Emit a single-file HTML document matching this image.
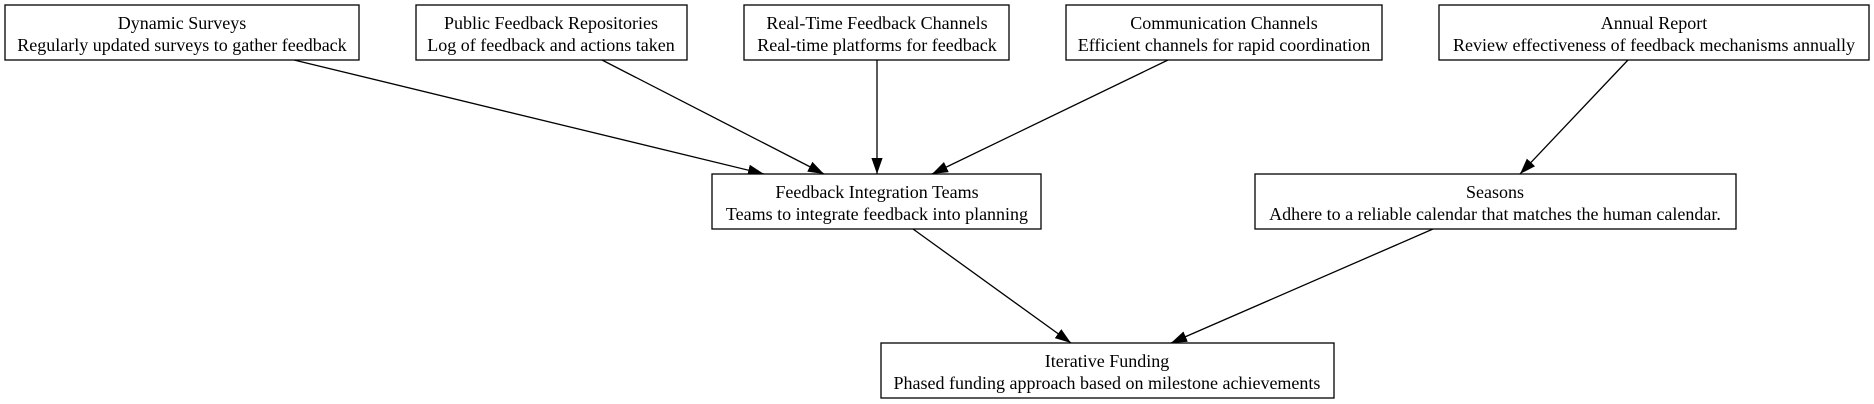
<!DOCTYPE html>
<html><head><meta charset="utf-8"><style>
html,body{margin:0;padding:0;background:#fff;width:1874px;height:404px;overflow:hidden}
text{font-family:"Liberation Serif","Times New Roman",serif;font-size:18px;fill:#000;text-anchor:middle}
rect{fill:#fff;stroke:#000;stroke-width:1.3}
line{stroke:#000;stroke-width:1.3}
</style></head><body>
<svg width="1874" height="404" viewBox="0 0 1874 404" xmlns="http://www.w3.org/2000/svg">
<defs><marker id="a" viewBox="0 0 10 10" refX="10" refY="5" markerWidth="16" markerHeight="16" markerUnits="userSpaceOnUse" orient="auto"><path d="M0,1.5 L10,5 L0,8.5 z" fill="#000"/></marker></defs>
<line x1="294" y1="60" x2="764" y2="174" marker-end="url(#a)"/>
<line x1="602" y1="60" x2="824" y2="174" marker-end="url(#a)"/>
<line x1="877" y1="60" x2="877" y2="174" marker-end="url(#a)"/>
<line x1="1168" y1="60" x2="932" y2="174" marker-end="url(#a)"/>
<line x1="1628" y1="60" x2="1520" y2="174" marker-end="url(#a)"/>
<line x1="913" y1="229" x2="1071" y2="343" marker-end="url(#a)"/>
<line x1="1433" y1="229" x2="1171" y2="343" marker-end="url(#a)"/>

<rect x="5" y="5" width="354" height="55"/>
<text x="182" y="29">Dynamic Surveys</text><text x="182" y="51">Regularly updated surveys to gather feedback</text>
<rect x="416" y="5" width="271" height="55"/>
<text x="551" y="29">Public Feedback Repositories</text><text x="551" y="51">Log of feedback and actions taken</text>
<rect x="744" y="5" width="265" height="55"/>
<text x="877" y="29">Real-Time Feedback Channels</text><text x="877" y="51">Real-time platforms for feedback</text>
<rect x="1066" y="5" width="316" height="55"/>
<text x="1224" y="29">Communication Channels</text><text x="1224" y="51">Efficient channels for rapid coordination</text>
<rect x="1439" y="5" width="430" height="55"/>
<text x="1654" y="29">Annual Report</text><text x="1654" y="51">Review effectiveness of feedback mechanisms annually</text>
<rect x="712" y="174" width="329" height="55"/>
<text x="877" y="198">Feedback Integration Teams</text><text x="877" y="220">Teams to integrate feedback into planning</text>
<rect x="1255" y="174" width="481" height="55"/>
<text x="1495" y="198">Seasons</text><text x="1495" y="220">Adhere to a reliable calendar that matches the human calendar.</text>
<rect x="881" y="343" width="453" height="55"/>
<text x="1107" y="367">Iterative Funding</text><text x="1107" y="389">Phased funding approach based on milestone achievements</text>
</svg>
</body></html>
